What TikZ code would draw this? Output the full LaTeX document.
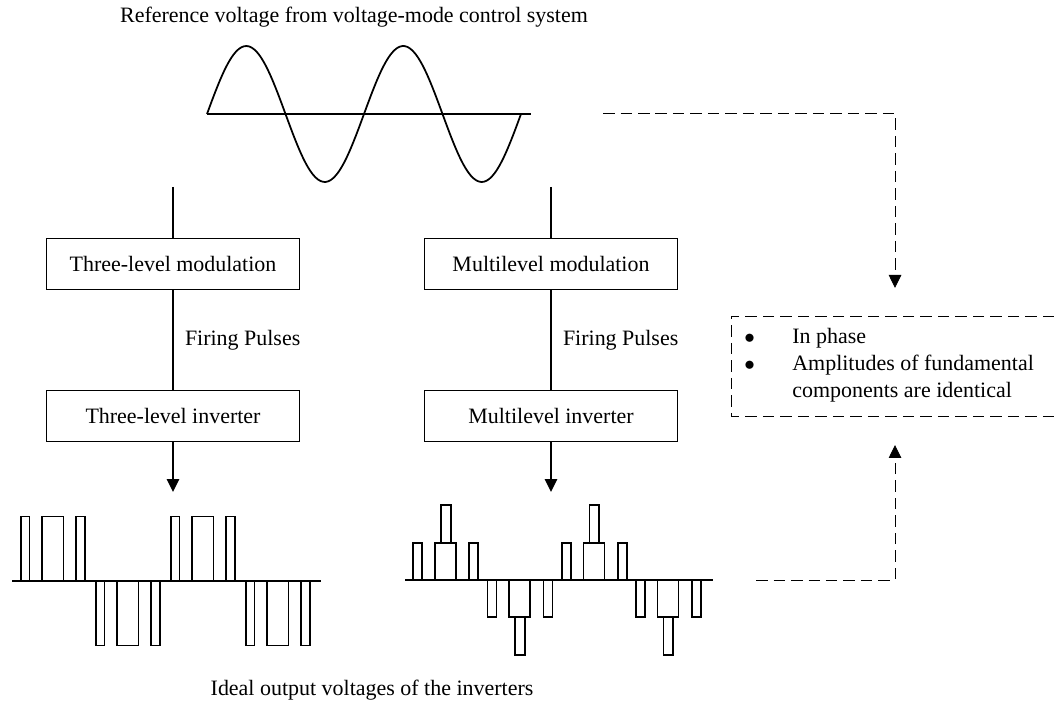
\documentclass[tikz,border=0pt]{standalone}
\usepackage{fontspec}
\setmainfont{Liberation Serif}
\usetikzlibrary{arrows.meta,positioning,calc}

\tikzset{
  blk/.style={draw, line width=1pt, minimum width=5.06cm, minimum height=1.02cm, inner sep=0pt},
  wire/.style={line width=1pt},
  dashwire/.style={line width=0.5pt, dash pattern=on 2.3mm off 1.2mm},
  tip/.style={-{Triangle[length=2.6mm,width=2.5mm]}},
}

\begin{document}
\begin{tikzpicture}[x=0.02cm,y=-0.02cm,font=\fontsize{12.5}{14.5}\selectfont]
\useasboundingbox (0,0) rectangle (1054,715);

% reference sine
\node (title) at (354,17) {Reference voltage from voltage-mode control system};
\draw[wire] (207,114) -- (531,114);
\draw[wire] plot[domain=0:314,samples=120,smooth] ({207+\x},{114-68*sin(\x/157*360)});

% three-level chain
\coordinate (tfeed) at (173,187);
\node[blk] (tmod) at (173,264) {Three-level modulation};
\node[blk] (tinv) at (173,416) {Three-level inverter};
\coordinate (tout) at (173,492);
\draw[wire] (tfeed) -- (tmod);
\draw[wire] (tmod) -- node[right=3pt] {Firing Pulses} (tinv);
\draw[wire,tip] (tinv) -- (tout);

% multilevel chain
\coordinate (mfeed) at (551,187);
\node[blk] (mmod) at (551,264) {Multilevel modulation};
\node[blk] (minv) at (551,416) {Multilevel inverter};
\coordinate (mout) at (551,492);
\draw[wire] (mfeed) -- (mmod);
\draw[wire] (mmod) -- node[right=3pt] {Firing Pulses} (minv);
\draw[wire,tip] (minv) -- (mout);

% three-level output
\draw[wire] (12,581) -- (321,581);
\foreach \k/\s in {0/1,1/-1,2/1,3/-1}{
  \pgfmathsetmacro{\x}{20.7+75*\k}
  \pgfmathsetmacro{\h}{581-64.5*\s}
  \draw[wire] (\x,581) rectangle ({\x+8.7},\h);
  \draw[wire] ({\x+21},581) rectangle ({\x+42.7},\h);
  \draw[wire] ({\x+55.3},581) rectangle ({\x+64.3},\h);
}

% multilevel output
\draw[wire] (405,580) -- (713,580);
\foreach \k/\s in {0/1,1/-1,2/1,3/-1}{
  \pgfmathsetmacro{\x}{413.3+74.2*\k}
  \pgfmathsetmacro{\h}{580-37*\s}
  \pgfmathsetmacro{\hh}{580-75*\s}
  \draw[wire] (\x,580) rectangle ({\x+9},\h);
  \draw[wire] ({\x+21.7},580) rectangle ({\x+42.7},\h);
  \draw[wire] ({\x+27.7},\h) rectangle ({\x+37.4},\hh);
  \draw[wire] ({\x+56},580) rectangle ({\x+65},\h);
}
\node (caption) at (372,690) {Ideal output voltages of the inverters};

% comparison
\coordinate (refsig) at (603,113);
\coordinate (cmptop) at (895,288);
\coordinate (outsig) at (756,580);
\coordinate (cmpbot) at (895,445);
\draw[dashwire] (1054,316) -- (731,316) -- (731,416) -- (1054,416);
\node[anchor=west, inner sep=0pt, align=left] (cond) at (744,365) {\fontsize{12.5}{15.3}\selectfont
  \begin{tabular}{@{}p{0.96cm}@{}l@{}}
  $\bullet$ & In phase\\
  $\bullet$ & Amplitudes of fundamental\\
   & components are identical
  \end{tabular}};
\draw[dashwire,tip] (refsig) -| (cmptop);
\draw[dashwire,tip] (outsig) -| (cmpbot);
\end{tikzpicture}
\end{document}
